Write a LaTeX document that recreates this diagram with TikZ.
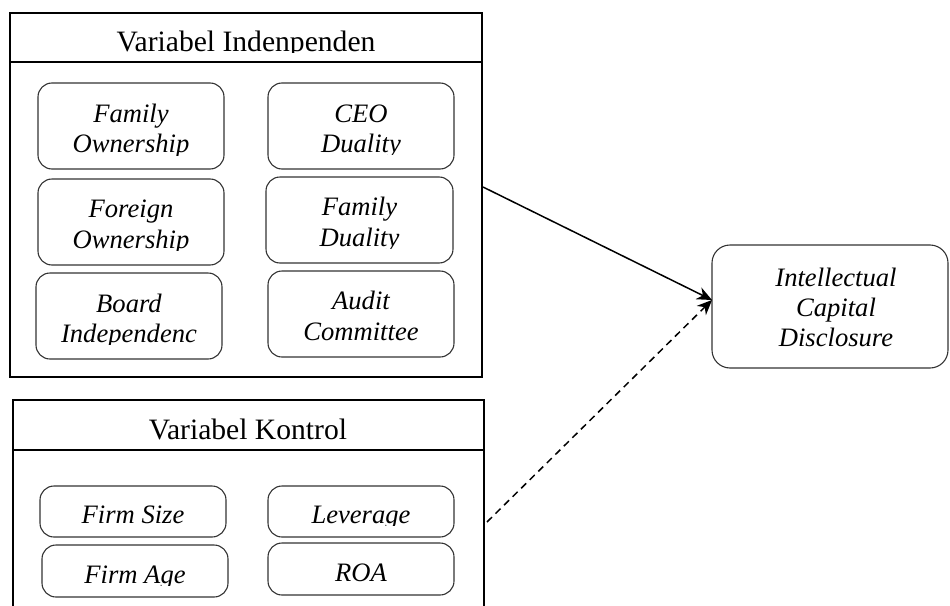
\documentclass[tikz,border=0pt]{standalone}
\usepackage{fontspec}
\setmainfont{Liberation Serif}
\usetikzlibrary{arrows.meta}
\tikzset{
  outerbox/.style={draw, line width=2pt, inner sep=0pt},
  ibx/.style={draw=black!80, line width=1.1pt, rounded corners=14pt, inner sep=0pt},
  itx/.style={font=\fontsize{26.6}{30}\selectfont\itshape, inner sep=0pt, anchor=base},
  ttl/.style={font=\fontsize{29.6}{34}\selectfont, inner sep=0pt, anchor=base},
  conn/.style={line width=1.5pt, -{Stealth[length=15pt,width=13pt]}},
}
\newcommand\ibox[7]{%
  \node[ibx, minimum width={(#4-#2)*1pt}, minimum height={(#5-#3)*1pt}] (#1) at ({(#2+#4)/2},{(#3+#5)/2}) {};
  \begin{scope}
    \clip (#2,#3) rectangle (#4,#6);
    #7
  \end{scope}}
\begin{document}
\begin{tikzpicture}[x=1pt,y=-1pt]
\clip (0,0) rectangle (950,605);
% Variabel Independen
\node[outerbox, minimum width=472pt, minimum height=364pt] (indep) at (246,195) {};
\draw[line width=2pt] (indep.west |- 0,62) -- (indep.east |- 0,62);
\begin{scope}
  \clip (10,13) rectangle (482,52);
  \node[ttl] (indepT) at (246,51) {Variabel Indenpenden};
\end{scope}
\ibox{fo}{38}{83}{224}{169}{155}{\node[itx] (fo1) at (131,122) {Family}; \node[itx] (fo2) at (131,152) {Ownership};}
\ibox{ceo}{268}{83}{454}{169}{154}{\node[itx] (ceo1) at (361,122) {CEO}; \node[itx] (ceo2) at (361,152) {Duality};}
\ibox{fow}{38}{179}{224}{265}{250}{\node[itx] (fow1) at (131,217) {Foreign}; \node[itx] (fow2) at (131,248) {Ownership};}
\ibox{fd}{266}{177}{453}{263}{248}{\node[itx] (fd1) at (359.5,215) {Family}; \node[itx] (fd2) at (359.5,246) {Duality};}
\ibox{bi}{36}{273}{222}{359}{344}{\node[itx] (bi1) at (129,312) {Board}; \node[itx] (bi2) at (129,342) {Independenc};}
\ibox{ac}{268}{271}{454}{357}{357}{\node[itx] (ac1) at (361,309) {Audit}; \node[itx] (ac2) at (361,340) {Committee};}
% Variabel Kontrol
\node[outerbox, minimum width=471pt, minimum height=215pt] (kontrol) at (248.5,507.5) {};
\draw[line width=2pt] (kontrol.west |- 0,450) -- (kontrol.east |- 0,450);
\node[ttl] (kontrolT) at (248,439) {Variabel Kontrol};
\ibox{fs}{40}{486}{226}{537}{537}{\node[itx] (fs1) at (133,523) {Firm Size};}
\ibox{lev}{268}{486}{454}{537}{525}{\node[itx] (lev1) at (361,523) {Leverage};}
\ibox{fa}{42}{545}{228}{597}{585}{\node[itx] (fa1) at (135,583) {Firm Age};}
\ibox{roa}{268}{543}{454}{595}{595}{\node[itx] (roa1) at (361,581) {ROA};}
% Intellectual Capital Disclosure
\node[ibx, rounded corners=18pt, minimum width=236pt, minimum height=123pt] (icd) at (830,306.5) {};
\node[itx] (icd1) at (836,286) {Intellectual};
\node[itx] (icd2) at (836,316) {Capital};
\node[itx] (icd3) at (836,346) {Disclosure};
% connectors
\coordinate (s1) at (483,187);
\coordinate (s2) at (487,522);
\coordinate (tip) at (712,300);
\draw[conn] (s1) -- (tip);
\draw[conn, dash pattern=on 7pt off 5pt] (s2) -- (tip);
\end{tikzpicture}
\end{document}
